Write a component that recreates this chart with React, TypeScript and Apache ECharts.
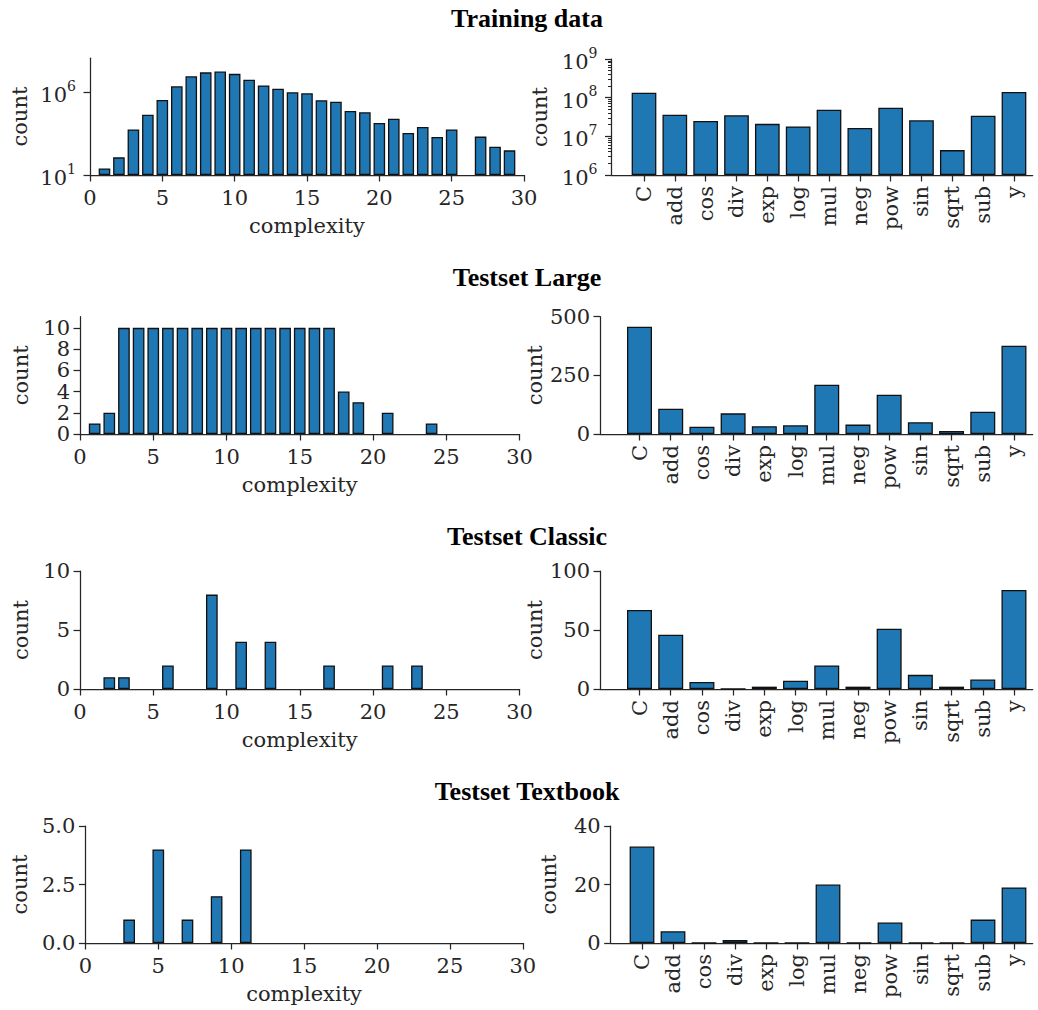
import React, { useEffect, useRef } from "react";
import * as echarts from "echarts";

// ---------- data ----------
const operators = ["C", "add", "cos", "div", "exp", "log", "mul", "neg", "pow", "sin", "sqrt", "sub", "y"];

const trainBins = [1, 2, 3, 4, 5, 6, 7, 8, 9, 10, 11, 12, 13, 14, 15, 16, 17, 18, 19, 20, 21, 22, 23, 24, 25, 26, 27, 28, 29];
const trainCounts = [25, 117, 5700, 44000, 340000, 2.3e6, 9.3e6, 1.6e7, 1.8e7, 1.3e7, 5.8e6, 2.6e6, 1.65e6, 1.0e6, 8.7e5, 3.3e5, 2.7e5, 7.4e4, 6.2e4, 1.4e4, 2.5e4, 3500, 8000, 2000, 5700, 0, 2100, 510, 310];
const trainOps = [1.35e8, 3.6e7, 2.5e7, 3.5e7, 2.1e7, 1.8e7, 4.9e7, 1.64e7, 5.5e7, 2.6e7, 4.4e6, 3.4e7, 1.41e8];

const largeBins = [1, 2, 3, 4, 5, 6, 7, 8, 9, 10, 11, 12, 13, 14, 15, 16, 17, 18, 19, 20, 21, 22, 23, 24];
const largeCounts = [1, 2, 10, 10, 10, 10, 10, 10, 10, 10, 10, 10, 10, 10, 10, 10, 10, 4, 3, 0, 2, 0, 0, 1];
const largeOps = [457, 108, 31, 88, 33, 37, 210, 40, 167, 50, 13, 95, 376];

const classicBins = [1, 2, 3, 4, 5, 6, 7, 8, 9, 10, 11, 12, 13, 14, 15, 16, 17, 18, 19, 20, 21, 22, 23];
const classicCounts = [0, 1, 1, 0, 0, 2, 0, 0, 8, 0, 4, 0, 4, 0, 0, 0, 2, 0, 0, 0, 2, 0, 2];
const classicOps = [67, 46, 6, 0, 2, 7, 20, 2, 51, 12, 2, 8, 84];

const textbookBins = [1, 2, 3, 4, 5, 6, 7, 8, 9, 10, 11];
const textbookCounts = [0, 0, 1, 0, 4, 0, 1, 0, 2, 0, 4];
const textbookOps = [33, 4, 0, 1, 0, 0, 20, 0, 7, 0, 0, 8, 19];

const titles = ["Training data", "Testset Large", "Testset Classic", "Testset Textbook"];

const trainCountTicks = [10, 1e6];
const trainOpTicks = [1e6, 1e7, 1e8, 1e9];
const trainOpMinorTicks = [1e6, 1e7, 1e8].flatMap((d) => [2, 3, 4, 5, 6, 7, 8, 9].map((m) => m * d));
const largeCountTicks = [0, 2, 4, 6, 8, 10];
const opTickPositions = operators.map((_, i) => i);

// ---------- style ----------
const FONT = "'DejaVu Serif', serif";
const INK = "#262626";
const BAR = "#1f77b4";
const EDGE = "#111111";
const FS = 21;

const supLabel = (v: number) => `{b|10}{s|${Math.round(Math.log10(v))}}`;
const supRich = {
  b: { fontSize: FS, fontFamily: FONT, color: INK, lineHeight: 27, verticalAlign: "bottom" },
  s: { fontSize: 14, fontFamily: FONT, color: INK, lineHeight: 18, verticalAlign: "top" },
};

type Grid = { left: number; top: number; width: number; height: number };
type LeftPanel = { grid: Grid; bins: number[]; counts: number[]; yAxis: any; nameGap: number; barWidth: number };
type RightPanel = { grid: Grid; values: number[]; xMin: number; xMax: number; yAxis: any; nameGap: number; barWidth: number };

const line = { show: true, onZero: false, lineStyle: { color: INK, width: 1.25 } };
const tick = (extra: any = {}) => ({ show: true, length: 6.5, lineStyle: { color: INK, width: 1.25 }, ...extra });
const lbl = (extra: any = {}) => ({ color: INK, fontFamily: FONT, fontSize: FS, ...extra });
const nameStyle = { color: INK, fontFamily: FONT, fontSize: FS };

const leftPanels: LeftPanel[] = [
  {
    grid: { left: 90, top: 58.2, width: 434, height: 116.8 },
    bins: trainBins,
    counts: trainCounts,
    yAxis: {
      type: "log", min: 10, max: 1.15e8, startValue: 10,
      axisLabel: lbl({ customValues: trainCountTicks, formatter: supLabel, rich: supRich, margin: 14 }),
      axisTick: tick({ customValues: trainCountTicks }),
    },
    nameGap: 60,
    barWidth: 11.6,
  },
  {
    grid: { left: 80, top: 316.7, width: 439.5, height: 117.3 },
    bins: largeBins,
    counts: largeCounts,
    yAxis: {
      type: "value", min: 0, max: 11.05,
      axisLabel: lbl({ customValues: largeCountTicks, margin: 10, lineHeight: 19 }),
      axisTick: tick({ customValues: largeCountTicks }),
    },
    nameGap: 49,
    barWidth: 11.7,
  },
  {
    grid: { left: 80, top: 571, width: 439.5, height: 118 },
    bins: classicBins,
    counts: classicCounts,
    yAxis: { type: "value", min: 0, max: 10, interval: 5, axisLabel: lbl({ margin: 10 }), axisTick: tick() },
    nameGap: 49,
    barWidth: 11.7,
  },
  {
    grid: { left: 85.4, top: 826, width: 437.4, height: 117 },
    bins: textbookBins,
    counts: textbookCounts,
    yAxis: {
      type: "value", min: 0, max: 5, interval: 2.5,
      axisLabel: lbl({ margin: 10, formatter: (v: number) => v.toFixed(1) }),
      axisTick: tick(),
    },
    nameGap: 55,
    barWidth: 11.7,
  },
];

const rightPanels: RightPanel[] = [
  {
    grid: { left: 611.5, top: 59, width: 421.2, height: 116 },
    values: trainOps,
    xMin: -1.054,
    xMax: 12.607,
    yAxis: {
      type: "log", min: 1e6, max: 1e9, startValue: 1e6,
      axisLabel: lbl({ customValues: trainOpTicks, formatter: supLabel, rich: supRich, margin: 14 }),
      axisTick: tick({ customValues: trainOpTicks }),
    },
    nameGap: 61,
    barWidth: 24.7,
  },
  {
    grid: { left: 600, top: 316.7, width: 432.7, height: 117.3 },
    values: largeOps,
    xMin: -1.266,
    xMax: 12.6,
    yAxis: { type: "value", min: 0, max: 500, interval: 250, axisLabel: lbl({ margin: 10 }), axisTick: tick() },
    nameGap: 55,
    barWidth: 25,
  },
  {
    grid: { left: 600, top: 571, width: 432.7, height: 118 },
    values: classicOps,
    xMin: -1.266,
    xMax: 12.6,
    yAxis: { type: "value", min: 0, max: 100, interval: 50, axisLabel: lbl({ margin: 10 }), axisTick: tick() },
    nameGap: 55,
    barWidth: 25,
  },
  {
    grid: { left: 610.7, top: 826, width: 422, height: 117 },
    values: textbookOps,
    xMin: -1.01,
    xMax: 12.603,
    yAxis: { type: "value", min: 0, max: 40, interval: 20, axisLabel: lbl({ margin: 10 }), axisTick: tick() },
    nameGap: 51,
    barWidth: 24.8,
  },
];

const titleY = [18, 277, 536, 791];

function buildOption() {
  const grid: any[] = [];
  const xAxis: any[] = [];
  const yAxis: any[] = [];
  const series: any[] = [];

  const barItem = { color: BAR, borderColor: EDGE, borderWidth: 1.3 };

  for (let r = 0; r < 4; r++) {
    const L = leftPanels[r];
    const R = rightPanels[r];
    const gl = grid.length;
    grid.push({ ...L.grid, containLabel: false });
    grid.push({ ...R.grid, containLabel: false });

    // left: complexity histogram
    xAxis.push({
      gridIndex: gl, type: "value", min: 0, max: 30, interval: 5,
      axisLine: line, axisTick: tick(), splitLine: { show: false },
      axisLabel: lbl({ margin: 12 }),
      name: "complexity", nameLocation: "middle", nameGap: 40, nameTextStyle: nameStyle,
    });
    const ylIndex = yAxis.length;
    yAxis.push({
      gridIndex: gl, position: "left", splitLine: { show: false }, axisLine: line,
      name: "count", nameLocation: "middle", nameGap: L.nameGap, nameTextStyle: nameStyle,
      ...L.yAxis,
    });
    series.push({
      type: "bar", xAxisIndex: gl, yAxisIndex: ylIndex, clip: true,
      barWidth: L.barWidth, itemStyle: barItem,
      // empty bins are not drawn
      data: L.bins.map((b, i) => [b, L.counts[i] > 0 ? L.counts[i] : "-"]),
    });

    // right: operator bars
    xAxis.push({
      gridIndex: gl + 1, type: "value", min: R.xMin, max: R.xMax,
      axisLine: line, splitLine: { show: false },
      axisTick: tick({ customValues: opTickPositions }),
      axisLabel: lbl({
        customValues: opTickPositions, rotate: 90, margin: 11,
        formatter: (v: number) => operators[Math.round(v)] ?? "",
      }),
    });
    const yrIndex = yAxis.length;
    yAxis.push({
      gridIndex: gl + 1, position: "left", splitLine: { show: false }, axisLine: line,
      name: "count", nameLocation: "middle", nameGap: R.nameGap, nameTextStyle: nameStyle,
      ...R.yAxis,
    });
    if (r === 0) {
      yAxis.push({
        gridIndex: gl + 1, position: "left", offset: 0, type: "log", min: 1e6, max: 1e9,
        axisLine: { show: false, onZero: false }, splitLine: { show: false }, axisLabel: { show: false },
        axisTick: { show: true, length: 3.5, lineStyle: { color: INK, width: 1 }, customValues: trainOpMinorTicks },
      });
    }
    series.push({
      type: "bar", xAxisIndex: gl + 1, yAxisIndex: yrIndex, clip: true,
      barWidth: R.barWidth, itemStyle: barItem,
      data: R.values.map((v, i) => [i, v]),
    });
  }

  const graphic = titles.map((t, i) => ({
    type: "text",
    x: 527,
    y: titleY[i],
    style: {
      text: t,
      fill: "#000",
      fontSize: 26,
      fontWeight: "bold",
      fontFamily: "'Liberation Serif', 'Times New Roman', serif",
      align: "center",
      verticalAlign: "middle",
      textAlign: "center",
      textVerticalAlign: "middle",
    },
  }));

  return {
    animation: false,
    backgroundColor: "#ffffff",
    grid,
    xAxis,
    yAxis,
    series,
    graphic,
  };
}

export default function App() {
  const ref = useRef<HTMLDivElement>(null);
  useEffect(() => {
    if (!ref.current) return;
    const chart = echarts.init(ref.current, null, { renderer: "svg" });
    chart.setOption(buildOption() as any);
    return () => chart.dispose();
  }, []);
  return (
    <div
      ref={ref}
      style={{ position: "fixed", left: 0, top: 0, width: 1038, height: 1010, background: "#fff" }}
    />
  );
}
